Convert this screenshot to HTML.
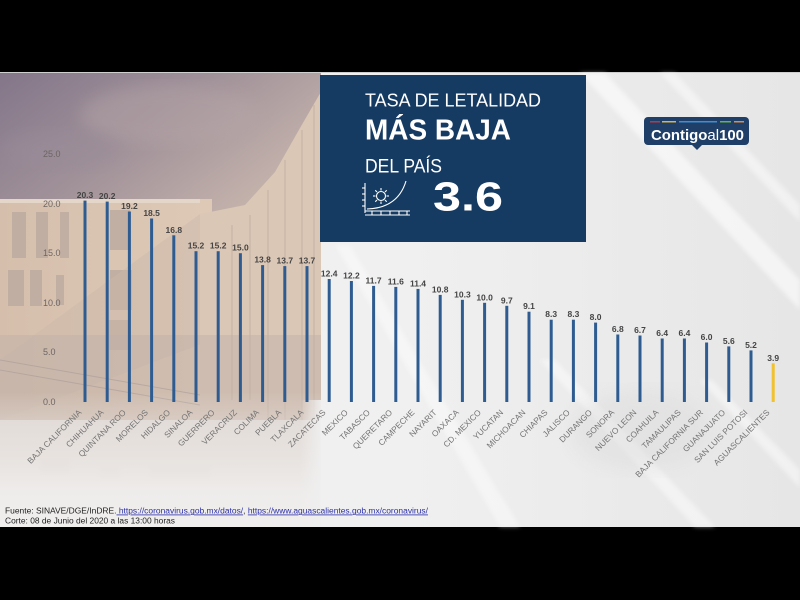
<!DOCTYPE html>
<html><head><meta charset="utf-8"><style>
html,body{margin:0;padding:0;background:#000;}
svg{display:block;}
</style></head><body>
<svg width="800" height="600" viewBox="0 0 800 600" xmlns="http://www.w3.org/2000/svg" font-family="'Liberation Sans', sans-serif">
<defs>
<linearGradient id="sky" x1="0" y1="0" x2="1" y2="0.7">
<stop offset="0" stop-color="#837689"/><stop offset="0.45" stop-color="#a09199"/><stop offset="1" stop-color="#cdbbb0"/>
</linearGradient>
<linearGradient id="bld" x1="0" y1="0" x2="1" y2="0">
<stop offset="0" stop-color="#d5bfac"/><stop offset="1" stop-color="#dec9b7"/>
</linearGradient>
<linearGradient id="bot" x1="0" y1="0" x2="0" y2="1">
<stop offset="0" stop-color="#efeeed" stop-opacity="0"/><stop offset="0.45" stop-color="#ebe7e4" stop-opacity="0.7"/><stop offset="0.75" stop-color="#efedec" stop-opacity="0.97"/><stop offset="1" stop-color="#f0efee" stop-opacity="1"/>
</linearGradient>
<linearGradient id="edge" x1="0" y1="0" x2="1" y2="0">
<stop offset="0" stop-color="#efefef" stop-opacity="0"/><stop offset="1" stop-color="#efefef" stop-opacity="1"/>
</linearGradient>
<linearGradient id="rgt" x1="0" y1="0" x2="1" y2="0">
<stop offset="0" stop-color="#efefef"/><stop offset="0.5" stop-color="#f0f0f0"/><stop offset="1" stop-color="#e6e6e6"/>
</linearGradient>
<filter id="blur"><feGaussianBlur stdDeviation="8"/></filter>
<filter id="blur2"><feGaussianBlur stdDeviation="2"/></filter>
<filter id="blur3"><feGaussianBlur stdDeviation="4"/></filter>
<clipPath id="photo"><rect x="0" y="73" width="321" height="454"/></clipPath>
</defs>

<rect x="0" y="0" width="800" height="600" fill="#000"/>
<rect x="0" y="72" width="800" height="1" fill="#cfcfcf"/>
<rect x="0" y="73" width="800" height="454" fill="url(#rgt)"/>
<g fill="#ffffff" filter="url(#blur2)">
<polygon points="580,73 605,73 800,280 800,310" opacity="0.55"/>
<polygon points="660,73 675,73 800,205 800,222" opacity="0.45"/>
<polygon points="335,245 350,245 520,527 500,527" opacity="0.4"/>
<polygon points="540,360 555,360 715,527 695,527" opacity="0.45"/>
<polygon points="700,380 712,380 800,470 800,488" opacity="0.45"/>
</g>
<g fill="#dcdcdc" opacity="0.45" filter="url(#blur)">
<ellipse cx="640" cy="430" rx="70" ry="40"/>
</g>

<g clip-path="url(#photo)">
<rect x="0" y="73" width="322" height="170" fill="url(#sky)"/>
<ellipse cx="170" cy="115" rx="90" ry="30" fill="#b6a6a8" opacity="0.45" filter="url(#blur)"/>
<ellipse cx="60" cy="150" rx="60" ry="20" fill="#9a8c99" opacity="0.5" filter="url(#blur)"/>
<rect x="0" y="199" width="212" height="240" fill="url(#bld)"/>
<rect x="0" y="199" width="200" height="4" fill="#e4d6c9"/>
<g fill="#b8a79e" opacity="0.7">
<rect x="12" y="212" width="14" height="46"/><rect x="36" y="212" width="12" height="46"/><rect x="60" y="212" width="9" height="46"/>
<rect x="8" y="270" width="16" height="36"/><rect x="30" y="270" width="12" height="36"/><rect x="56" y="275" width="8" height="30"/>
<rect x="110" y="210" width="20" height="40"/><rect x="110" y="270" width="22" height="40"/><rect x="108" y="320" width="20" height="30"/>
</g>
<polygon points="0,360 200,214 212,214 212,340 0,420" fill="#cbb9ab" opacity="0.45"/>
<polygon points="200,214 245,205 275,172 300,128 322,90 322,440 200,440" fill="#dbc7b6"/>
<g stroke="#c5b1a2" stroke-width="1.2" opacity="0.8">
<line x1="232" y1="225" x2="232" y2="400"/><line x1="250" y1="215" x2="250" y2="400"/>
<line x1="268" y1="190" x2="268" y2="420"/><line x1="285" y1="160" x2="285" y2="420"/>
<line x1="302" y1="130" x2="302" y2="420"/><line x1="314" y1="105" x2="314" y2="420"/>
</g>
<rect x="0" y="335" width="322" height="95" fill="#bfb0a8" opacity="0.45"/>
<g stroke="#a89c97" stroke-width="1" opacity="0.6">
<line x1="0" y1="360" x2="200" y2="395"/><line x1="0" y1="370" x2="200" y2="405"/>
</g>
<rect x="0" y="420" width="322" height="107" fill="#ddd5d0"/>
<g fill="#cbc2bd" opacity="0.5" filter="url(#blur2)">
<rect x="40" y="460" width="30" height="14"/><rect x="100" y="468" width="20" height="12"/><rect x="150" y="466" width="60" height="14"/>
</g>
<rect x="0" y="392" width="322" height="135" fill="url(#bot)"/>
<rect x="300" y="400" width="22" height="127" fill="url(#edge)"/>
</g>

<rect x="320" y="75" width="266" height="167" fill="#163b62"/>
<text x="365" y="106.7" font-size="18.6" fill="#fff" textLength="176" lengthAdjust="spacingAndGlyphs">TASA DE LETALIDAD</text>
<text x="365" y="139.3" font-size="29" font-weight="bold" fill="#fff" textLength="146" lengthAdjust="spacingAndGlyphs">MÁS BAJA</text>
<text x="365" y="172.7" font-size="19" fill="#fff" textLength="77" lengthAdjust="spacingAndGlyphs">DEL PAÍS</text>
<text x="433" y="210.5" font-size="41" font-weight="bold" fill="#fff" textLength="70" lengthAdjust="spacingAndGlyphs">3.6</text>
<g stroke="#fff" stroke-width="1.1" fill="none">
<line x1="365" y1="183" x2="365" y2="213"/>
<line x1="362" y1="188" x2="365" y2="188"/><line x1="362" y1="194" x2="365" y2="194"/><line x1="362" y1="200" x2="365" y2="200"/><line x1="362" y1="206" x2="365" y2="206"/>
<line x1="365" y1="211" x2="410" y2="211"/>
<line x1="365" y1="215" x2="410" y2="215"/>
<line x1="372" y1="211" x2="372" y2="215"/><line x1="381" y1="211" x2="381" y2="215"/><line x1="390" y1="211" x2="390" y2="215"/><line x1="399" y1="211" x2="399" y2="215"/><line x1="407" y1="211" x2="407" y2="215"/>
<path d="M367,209 Q398,208 406,181"/>
<circle cx="381" cy="196" r="4.5"/>
<line x1="381" y1="188" x2="381" y2="190.5"/><line x1="381" y1="201.5" x2="381" y2="204"/>
<line x1="373" y1="196" x2="375.5" y2="196"/><line x1="386.5" y1="196" x2="389" y2="196"/>
<line x1="375.3" y1="190.3" x2="377" y2="192"/><line x1="385" y1="200" x2="386.7" y2="201.7"/>
<line x1="386.7" y1="190.3" x2="385" y2="192"/><line x1="377" y1="200" x2="375.3" y2="201.7"/>
</g>

<rect x="644" y="117" width="105" height="28" rx="4" fill="#1f3f68"/>
<polygon points="692,145 702,145 697,150" fill="#1f3f68"/>
<rect x="650" y="121" width="10" height="1.5" fill="#b8384a"/>
<rect x="662" y="121" width="14" height="1.5" fill="#d9b44a"/>
<rect x="679" y="121" width="38" height="1.5" fill="#3f8fd0"/>
<rect x="720" y="121" width="11" height="1.5" fill="#6ab04c"/>
<rect x="734" y="121" width="10" height="1.5" fill="#e08b4a"/>
<text x="651" y="140" font-size="15" fill="#fff" textLength="93" lengthAdjust="spacingAndGlyphs"><tspan font-weight="bold">Contigo</tspan><tspan>al</tspan><tspan font-weight="bold">100</tspan></text>

<g font-size="9" fill="#6d6563">
<text x="43" y="157">25.0</text>
<text x="43" y="207">20.0</text>
<text x="43" y="256">15.0</text>
<text x="43" y="306">10.0</text>
<text x="43" y="355">5.0</text>
<text x="43" y="405">0.0</text>
</g>

<g fill="#2e5c91">
<rect x="83.5" y="200.6" width="3" height="201.4"/>
<rect x="105.7" y="201.6" width="3" height="200.4"/>
<rect x="127.9" y="211.5" width="3" height="190.5"/>
<rect x="150.1" y="218.5" width="3" height="183.5"/>
<rect x="172.3" y="235.3" width="3" height="166.7"/>
<rect x="194.5" y="251.2" width="3" height="150.8"/>
<rect x="216.7" y="251.2" width="3" height="150.8"/>
<rect x="238.9" y="253.2" width="3" height="148.8"/>
<rect x="261.1" y="265.1" width="3" height="136.9"/>
<rect x="283.3" y="266.1" width="3" height="135.9"/>
<rect x="305.5" y="266.1" width="3" height="135.9"/>
<rect x="327.7" y="279.0" width="3" height="123.0"/>
<rect x="349.9" y="281.0" width="3" height="121.0"/>
<rect x="372.1" y="285.9" width="3" height="116.1"/>
<rect x="394.3" y="286.9" width="3" height="115.1"/>
<rect x="416.5" y="288.9" width="3" height="113.1"/>
<rect x="438.7" y="294.9" width="3" height="107.1"/>
<rect x="460.9" y="299.8" width="3" height="102.2"/>
<rect x="483.1" y="302.8" width="3" height="99.2"/>
<rect x="505.3" y="305.8" width="3" height="96.2"/>
<rect x="527.5" y="311.7" width="3" height="90.3"/>
<rect x="549.7" y="319.7" width="3" height="82.3"/>
<rect x="571.9" y="319.7" width="3" height="82.3"/>
<rect x="594.1" y="322.6" width="3" height="79.4"/>
<rect x="616.3" y="334.5" width="3" height="67.5"/>
<rect x="638.5" y="335.5" width="3" height="66.5"/>
<rect x="660.7" y="338.5" width="3" height="63.5"/>
<rect x="682.9" y="338.5" width="3" height="63.5"/>
<rect x="705.1" y="342.5" width="3" height="59.5"/>
<rect x="727.3" y="346.4" width="3" height="55.6"/>
<rect x="749.5" y="350.4" width="3" height="51.6"/>
</g>
<rect x="771.7" y="363.3" width="3" height="38.7" fill="#f2c12e"/>

<g font-size="8.5" font-weight="bold" fill="#444" text-anchor="middle">
<text x="85.0" y="198.1">20.3</text>
<text x="107.2" y="199.1">20.2</text>
<text x="129.4" y="209.0">19.2</text>
<text x="151.6" y="216.0">18.5</text>
<text x="173.8" y="232.8">16.8</text>
<text x="196.0" y="248.7">15.2</text>
<text x="218.2" y="248.7">15.2</text>
<text x="240.4" y="250.7">15.0</text>
<text x="262.6" y="262.6">13.8</text>
<text x="284.8" y="263.6">13.7</text>
<text x="307.0" y="263.6">13.7</text>
<text x="329.2" y="276.5">12.4</text>
<text x="351.4" y="278.5">12.2</text>
<text x="373.6" y="283.4">11.7</text>
<text x="395.8" y="284.4">11.6</text>
<text x="418.0" y="286.4">11.4</text>
<text x="440.2" y="292.4">10.8</text>
<text x="462.4" y="297.3">10.3</text>
<text x="484.6" y="300.3">10.0</text>
<text x="506.8" y="303.3">9.7</text>
<text x="529.0" y="309.2">9.1</text>
<text x="551.2" y="317.2">8.3</text>
<text x="573.4" y="317.2">8.3</text>
<text x="595.6" y="320.1">8.0</text>
<text x="617.8" y="332.0">6.8</text>
<text x="640.0" y="333.0">6.7</text>
<text x="662.2" y="336.0">6.4</text>
<text x="684.4" y="336.0">6.4</text>
<text x="706.6" y="340.0">6.0</text>
<text x="728.8" y="343.9">5.6</text>
<text x="751.0" y="347.9">5.2</text>
<text x="773.2" y="360.8">3.9</text>
</g>

<g font-size="8.3" fill="#737373" text-anchor="end">
<text transform="translate(82.0,413) rotate(-45)">BAJA CALIFORNIA</text>
<text transform="translate(104.2,413) rotate(-45)">CHIHUAHUA</text>
<text transform="translate(126.4,413) rotate(-45)">QUINTANA ROO</text>
<text transform="translate(148.6,413) rotate(-45)">MORELOS</text>
<text transform="translate(170.8,413) rotate(-45)">HIDALGO</text>
<text transform="translate(193.0,413) rotate(-45)">SINALOA</text>
<text transform="translate(215.2,413) rotate(-45)">GUERRERO</text>
<text transform="translate(237.4,413) rotate(-45)">VERACRUZ</text>
<text transform="translate(259.6,413) rotate(-45)">COLIMA</text>
<text transform="translate(281.8,413) rotate(-45)">PUEBLA</text>
<text transform="translate(304.0,413) rotate(-45)">TLAXCALA</text>
<text transform="translate(326.2,413) rotate(-45)">ZACATECAS</text>
<text transform="translate(348.4,413) rotate(-45)">MEXICO</text>
<text transform="translate(370.6,413) rotate(-45)">TABASCO</text>
<text transform="translate(392.8,413) rotate(-45)">QUERETARO</text>
<text transform="translate(415.0,413) rotate(-45)">CAMPECHE</text>
<text transform="translate(437.2,413) rotate(-45)">NAYARIT</text>
<text transform="translate(459.4,413) rotate(-45)">OAXACA</text>
<text transform="translate(481.6,413) rotate(-45)">CD. MEXICO</text>
<text transform="translate(503.8,413) rotate(-45)">YUCATAN</text>
<text transform="translate(526.0,413) rotate(-45)">MICHOACAN</text>
<text transform="translate(548.2,413) rotate(-45)">CHIAPAS</text>
<text transform="translate(570.4,413) rotate(-45)">JALISCO</text>
<text transform="translate(592.6,413) rotate(-45)">DURANGO</text>
<text transform="translate(614.8,413) rotate(-45)">SONORA</text>
<text transform="translate(637.0,413) rotate(-45)">NUEVO LEON</text>
<text transform="translate(659.2,413) rotate(-45)">COAHUILA</text>
<text transform="translate(681.4,413) rotate(-45)">TAMAULIPAS</text>
<text transform="translate(703.6,413) rotate(-45)">BAJA CALIFORNIA SUR</text>
<text transform="translate(725.8,413) rotate(-45)">GUANAJUATO</text>
<text transform="translate(748.0,413) rotate(-45)">SAN LUIS POTOSI</text>
<text transform="translate(770.2,413) rotate(-45)">AGUASCALIENTES</text>
</g>

<text x="5" y="513.5" font-size="8" fill="#222" textLength="423" lengthAdjust="spacingAndGlyphs">Fuente: SINAVE/DGE/InDRE.<tspan fill="#2b2fa8" text-decoration="underline"> https://coronavirus.gob.mx/datos/</tspan>, <tspan fill="#2b2fa8" text-decoration="underline">https://www.aguascalientes.gob.mx/coronavirus/</tspan></text>
<text x="5" y="523.5" font-size="8" fill="#222" textLength="170" lengthAdjust="spacingAndGlyphs">Corte: 08 de Junio del 2020 a las 13:00 horas</text>
</svg>
</body></html>
